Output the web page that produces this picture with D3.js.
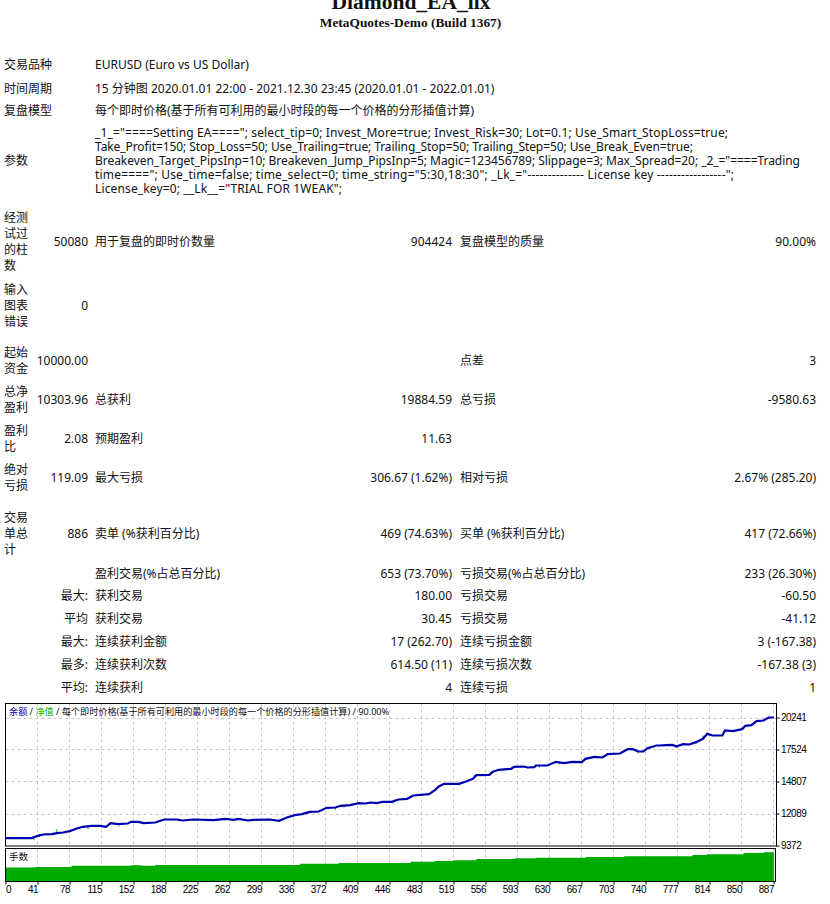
<!DOCTYPE html>
<html>
<head>
<meta charset="utf-8">
<script src="https://cdn.jsdelivr.net/npm/d3@7"></script>
<style>
  html, body { margin: 0; padding: 0; background: #fff; overflow: hidden; }
  svg { display: block; }
  text { font-family: "Noto Sans", "Noto Sans CJK SC", sans-serif; font-size: 12px; fill: #111; }
  .title { font-family: "Liberation Serif", serif; font-weight: bold; text-anchor: middle; }
  .chart .tick text { font-family: "Liberation Sans", sans-serif; font-size: 10px; letter-spacing: -0.5px; }
  .grid line { stroke: #c8c8c8; stroke-dasharray: 3 3; }
</style>
</head>
<body>
<svg id="viz" width="830" height="904"></svg>
<script>
// report text
const headerLabels = ["交易品种", "时间周期", "复盘模型"];
const headerValues = [
  "EURUSD (Euro vs US Dollar)",
  "15 分钟图 2020.01.01 22:00 - 2021.12.30 23:45 (2020.01.01 - 2022.01.01)",
  "每个即时价格(基于所有可利用的最小时段的每一个价格的分形插值计算)"
];
const paramLines = [
  '_1_="====Setting EA===="; select_tip=0; Invest_More=true; Invest_Risk=30; Lot=0.1; Use_Smart_StopLoss=true;',
  "Take_Profit=150; Stop_Loss=50; Use_Trailing=true; Trailing_Stop=50; Trailing_Step=50; Use_Break_Even=true;",
  'Breakeven_Target_PipsInp=10; Breakeven_Jump_PipsInp=5; Magic=123456789; Slippage=3; Max_Spread=20; _2_="====Trading',
  'time===="; Use_time=false; time_select=0; time_string="5:30,18:30"; _Lk_="-------------- License key -----------------";',
  'License_key=0; __Lk__="TRIAL FOR 1WEAK";'
];

// stats table, one list per column
const col1 = [["经测", "试过", "的柱", "数"], ["输入", "图表", "错误"], ["起始", "资金"], ["总净", "盈利"], ["盈利", "比"], ["绝对", "亏损"], ["交易", "单总", "计"], [""], ["最大:"], ["平均"], ["最大:"], ["最多:"], ["平均:"]];
const col2 = ["50080", "0", "10000.00", "10303.96", "2.08", "119.09", "886", "", "", "", "", "", ""];
const col3 = ["用于复盘的即时价数量", "", "", "总获利", "预期盈利", "最大亏损", "卖单 (%获利百分比)", "盈利交易(%占总百分比)", "获利交易", "获利交易", "连续获利金额", "连续获利次数", "连续获利"];
const col4 = ["904424", "", "", "19884.59", "11.63", "306.67 (1.62%)", "469 (74.63%)", "653 (73.70%)", "180.00", "30.45", "17 (262.70)", "614.50 (11)", "4"];
const col5 = ["复盘模型的质量", "", "点差", "总亏损", "", "相对亏损", "买单 (%获利百分比)", "亏损交易(%占总百分比)", "亏损交易", "亏损交易", "连续亏损金额", "连续亏损次数", "连续亏损"];
const col6 = ["90.00%", "", "3", "-9580.63", "", "2.67% (285.20)", "417 (72.66%)", "233 (26.30%)", "-60.50", "-41.12", "3 (-167.38)", "-167.38 (3)", "1"];

// chart data: trade number, money
const xTicks = [0, 41, 78, 115, 152, 188, 225, 262, 299, 336, 372, 409, 446, 483, 519, 556, 593, 630, 667, 703, 740, 777, 814, 850, 887];
const yTicks = [9372, 12089, 14807, 17524, 20241];
const balanceTrades = [0, 34, 42, 48, 58, 64, 71, 79, 87, 94, 104, 114, 121, 126, 135, 146, 150, 158, 164, 177, 187, 202, 208, 221, 244, 258, 267, 273, 284, 290, 309, 320, 329, 338, 346, 355, 365, 374, 384, 390, 401, 411, 419, 425, 432, 438, 449, 457, 467, 474, 492, 499, 503, 509, 526, 534, 542, 546, 561, 565, 572, 586, 590, 601, 605, 613, 615, 628, 638, 647, 657, 668, 672, 682, 691, 697, 711, 720, 726, 732, 738, 743, 753, 757, 764, 772, 776, 784, 791, 799, 807, 812, 818, 829, 832, 841, 851, 855, 862, 868, 876, 882, 888];
const balanceValues = [10000, 10000, 10194, 10308, 10336, 10421, 10477, 10591, 10817, 10959, 11043, 11043, 10959, 11270, 11185, 11242, 11383, 11383, 11270, 11326, 11581, 11581, 11496, 11581, 11525, 11638, 11553, 11638, 11496, 11553, 11581, 11468, 11751, 11949, 12034, 12232, 12260, 12572, 12600, 12741, 12798, 12968, 12940, 13024, 12968, 13081, 13081, 13279, 13336, 13619, 13732, 14100, 14383, 14609, 14609, 14807, 15034, 15345, 15373, 15628, 15798, 15883, 16053, 16081, 15996, 16024, 16166, 16166, 16477, 16364, 16477, 16449, 16732, 16902, 16845, 17128, 17185, 17552, 17552, 17354, 17354, 17637, 17864, 17864, 17892, 17920, 17779, 17977, 17949, 18147, 18430, 18854, 18713, 18713, 19137, 19081, 19251, 19533, 19590, 19930, 19986, 20240, 20240];
const equityTrades = [37, 44, 64, 100, 126, 136, 171, 204, 384, 394, 411, 451, 526, 544, 563, 619, 642, 697, 732, 751, 785, 799, 807, 853];
const equityHigh = [9997, 10336, 10760, 10987, 11383, 11242, 11326, 11581, 12600, 12741, 13052, 13109, 14609, 15373, 15600, 16166, 16477, 17128, 17354, 17864, 18062, 18147, 18713, 19477];
const equityLow = [9827, 10138, 10421, 10760, 11128, 11072, 11185, 11411, 12402, 12600, 12883, 12940, 14440, 15147, 15487, 15996, 16279, 16986, 17213, 17694, 17920, 17977, 18345, 19222];
const lotTrades = [0, 34, 40, 81, 150, 162, 177, 344, 388, 471, 498, 519, 546, 590, 615, 672, 716, 795, 811, 853, 876, 888];
const lotValues = [0.6, 0.62, 0.63, 0.68, 0.71, 0.68, 0.72, 0.77, 0.81, 0.86, 0.9, 0.93, 0.98, 1.02, 1.04, 1.07, 1.11, 1.16, 1.2, 1.25, 1.29, 1.31];

const svg = d3.select("#viz");

// rows of the report
const headerY = [65, 89, 111];
const paramY = [133, 147, 161, 175, 189];
const paramWidths = [633, 598, 705, 639, 247];
const rowY = [242, 306, 361, 400, 439, 478, 534, 574, 596, 619, 642, 665, 688];
const lineH = 16;

function put(px, py, s, anchor) {
  return svg.append("text").attr("x", px).attr("y", py).attr("dy", "0.36em")
    .attr("text-anchor", anchor || "start").text(s);
}

svg.append("text").attr("class", "title").attr("x", 411).attr("y", 9).style("font-size", "21.5px").text("Diamond_EA_llx");
svg.append("text").attr("class", "title").attr("x", 410.5).attr("y", 27).style("font-size", "13.4px").text("MetaQuotes-Demo (Build 1367)");

headerLabels.forEach((s, i) => {
  put(4, headerY[i], s);
  put(95, headerY[i], headerValues[i]);
});
put(4, 161, "参数");
paramLines.forEach((s, i) => put(95, paramY[i], s).attr("textLength", paramWidths[i]).attr("lengthAdjust", "spacing"));

rowY.forEach((ry, i) => {
  const lines = col1[i];
  if (lines.length === 1) {
    put(88, ry, lines[0], "end");
  } else {
    lines.forEach((s, j) => put(4, ry + (j - (lines.length - 1) / 2) * lineH, s));
  }
  put(88, ry, col2[i], "end");
  put(95, ry, col3[i]);
  put(452, ry, col4[i], "end");
  put(460, ry, col5[i]);
  put(816, ry, col6[i], "end");
});

// chart
const chart = svg.append("g").attr("class", "chart");
const x = d3.scaleLinear().domain(xTicks).range(xTicks.map((d, i) => 5 + 32 * i));
const y = d3.scaleLinear().domain([9372, 20241]).range([845.5, 717.5]);
const yLot = d3.scaleLinear().domain([0, 1.455]).range([881, 848.5]);

const frameTop = 703.5, frameMid = 846, lotTop = 848.5, frameBottom = 881.5, frameRight = 776.5, frameLeft = 5.5;

// grid
const grid = chart.append("g").attr("class", "grid");
grid.selectAll(".gy").data(yTicks.slice(1)).join("line").attr("class", "gy")
  .attr("x1", frameLeft).attr("x2", frameRight).attr("y1", (d) => Math.round(y(d)) + 0.5).attr("y2", (d) => Math.round(y(d)) + 0.5);
grid.selectAll(".gx").data(xTicks.slice(1)).join("line").attr("class", "gx")
  .attr("x1", (d) => Math.round(x(d)) + 0.5).attr("x2", (d) => Math.round(x(d)) + 0.5).attr("y1", frameTop).attr("y2", frameMid);
grid.selectAll(".gl").data(xTicks.slice(1)).join("line").attr("class", "gl")
  .attr("x1", (d) => Math.round(x(d)) + 0.5).attr("x2", (d) => Math.round(x(d)) + 0.5).attr("y1", lotTop).attr("y2", frameBottom);

// lots
const area = d3.area().curve(d3.curveStepAfter)
  .x((d) => x(d)).y0(881).y1((d, i) => yLot(lotValues[i]));
chart.append("path").attr("d", area(lotTrades)).attr("fill", "#00ab00");

// equity spikes under the balance line
chart.selectAll(".eq").data(equityTrades).join("line").attr("class", "eq")
  .attr("x1", (d) => x(d)).attr("x2", (d) => x(d))
  .attr("y1", (d, i) => y(equityHigh[i])).attr("y2", (d, i) => y(equityLow[i]))
  .attr("stroke", "#00b000").attr("stroke-width", 1);

// balance
const line = d3.line().x((d) => x(d)).y((d, i) => y(balanceValues[i]));
chart.append("path").attr("d", line(balanceTrades)).attr("fill", "none")
  .attr("stroke", "#0000b0").attr("stroke-width", 2.2);

// frames
chart.append("rect").attr("x", frameLeft).attr("y", frameTop).attr("width", frameRight - frameLeft).attr("height", frameMid - frameTop)
  .attr("fill", "none").attr("stroke", "#000");
chart.append("rect").attr("x", frameLeft).attr("y", lotTop).attr("width", frameRight - frameLeft - 1).attr("height", frameBottom - lotTop)
  .attr("fill", "none").attr("stroke", "#000");

// axes
const xAxis = d3.axisBottom(x).tickValues(xTicks).tickSize(3).tickFormat((d) => d);
const gx = chart.append("g").attr("transform", "translate(0.5," + frameBottom + ")").call(xAxis);
gx.select(".domain").remove();
gx.selectAll("text").attr("text-anchor", (d) => (d === 0 ? "start" : "end")).attr("dy", 0).attr("y", 11.5).style("fill", "#000");

const yAxis = d3.axisRight(y).tickValues(yTicks).tickSize(3).tickFormat((d) => d);
const gy = chart.append("g").attr("transform", "translate(" + frameRight + ",0)").call(yAxis);
gy.select(".domain").remove();
gy.selectAll("text").attr("x", 4.5).style("fill", "#000");

// legend
const legend = chart.append("text").attr("x", 9).attr("y", 715).style("font-size", "9.15px");
legend.append("tspan").text("余额").style("fill", "#0000b0");
legend.append("tspan").text(" / ");
legend.append("tspan").text("净值").style("fill", "#00b000");
legend.append("tspan").text(" / 每个即时价格(基于所有可利用的最小时段的每一个价格的分形插值计算) / 90.00%");
chart.append("text").attr("x", 9).attr("y", 860).style("font-size", "9.5px").text("手数");
</script>
</body>
</html>
